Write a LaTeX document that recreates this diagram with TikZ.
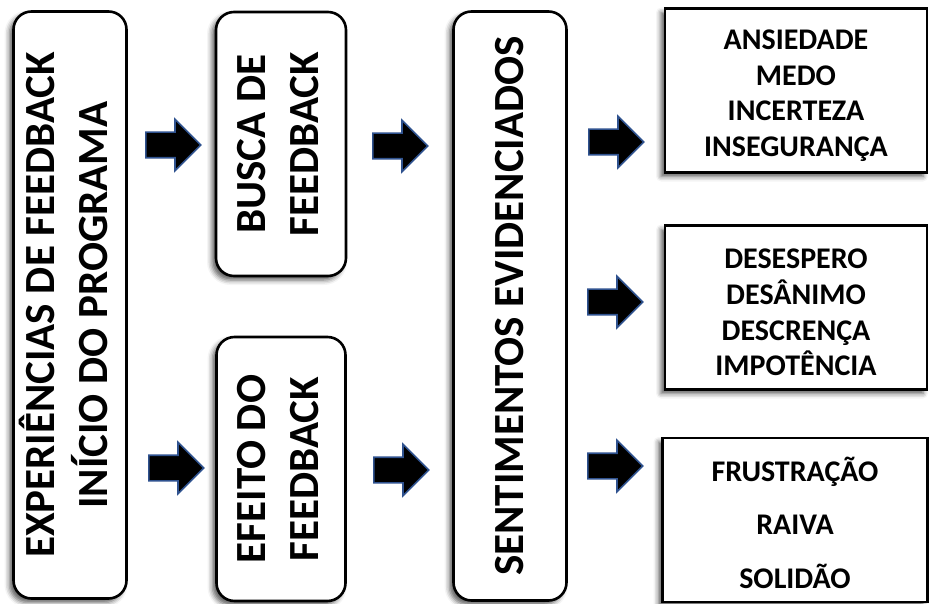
\documentclass[tikz,border=0pt]{standalone}
\usepackage{fontspec}
\setmainfont{Carlito}
\usetikzlibrary{shapes.arrows,shadows.blur}
\definecolor{arrowedge}{HTML}{2F528F}
\newcommand{\topgap}{\rule{0pt}{30pt}}
\begin{document}
\begin{tikzpicture}[x=1pt,y=-1pt,
  softshadow/.style={blur shadow={shadow xshift=-4pt, shadow yshift=-4pt,
      shadow blur radius=5pt, shadow opacity=65}},
  panel/.style={draw=black, line width=2.6pt, fill=white, rounded corners=18pt,
      inner sep=0pt, align=center, softshadow,
      font=\bfseries\fontsize{43}{53}\selectfont},
  listbox/.style={draw=black, line width=2.6pt, fill=white, inner sep=0pt,
      align=center, softshadow,
      font=\bfseries\fontsize{30}{35.7}\selectfont},
  blockarrow/.style={single arrow, draw=arrowedge, fill=black, line width=1.6pt,
      minimum height=55pt, single arrow head extend=13pt, inner xsep=0pt,
      inner ysep=12pt, single arrow tip angle=90, anchor=tail}
]
\useasboundingbox (0,0) rectangle (930,604);

% vertical rounded panels
\node[panel, minimum width=113pt, minimum height=587pt] (exp) at (70,305)
  {\rotatebox{90}{\begin{tabular}{@{}c@{}}EXPERIÊNCIAS DE FEEDBACK\\INÍCIO DO PROGRAMA\end{tabular}}};
\node[panel, minimum width=130pt, minimum height=264pt] (busca) at (281,144)
  {\rotatebox{90}{\begin{tabular}{@{}c@{}}BUSCA DE\\FEEDBACK\end{tabular}}};
\node[panel, minimum width=129pt, minimum height=264pt] (efeito) at (281,469)
  {\rotatebox{90}{\begin{tabular}{@{}c@{}}EFEITO DO\\FEEDBACK\end{tabular}}};
\node[panel, minimum width=113pt, minimum height=589pt] (sent) at (510,306)
  {\rotatebox{90}{SENTIMENTOS EVIDENCIADOS}};

% feelings lists
\node[listbox, minimum width=262pt, minimum height=164pt] (medo) at (796,90.5)
  {\topgap ANSIEDADE\\MEDO\\INCERTEZA\\INSEGURANÇA};
\node[listbox, minimum width=262pt, minimum height=164pt] (desespero) at (796,307.5)
  {\topgap DESESPERO\\DESÂNIMO\\DESCRENÇA\\IMPOTÊNCIA};
\node[listbox, minimum width=265pt, minimum height=164pt] (raiva) at (795,520)
  {\topgap FRUSTRAÇÃO\\[18pt]RAIVA\\[18pt]SOLIDÃO};

% block arrows between the columns
\node[blockarrow] (a1) at (145,145) {};
\node[blockarrow] (a2) at (148,468) {};
\node[blockarrow] (a3) at (372,146) {};
\node[blockarrow] (a4) at (373,470) {};
\node[blockarrow] (a5) at (588,142) {};
\node[blockarrow] (a6) at (587,302) {};
\node[blockarrow] (a7) at (587,466) {};
\end{tikzpicture}
\end{document}
